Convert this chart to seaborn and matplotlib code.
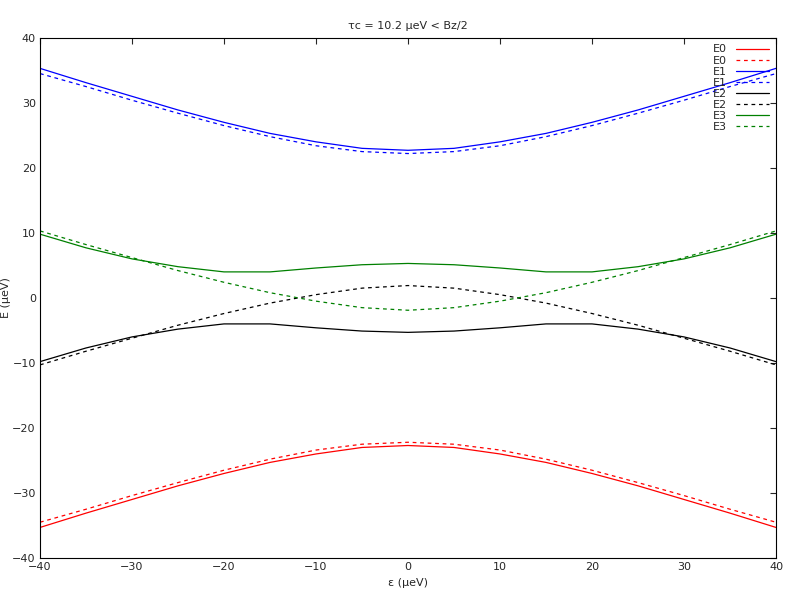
import matplotlib
matplotlib.use("Agg")
import matplotlib.pyplot as plt
import seaborn as sns
import pandas as pd

x = [-40, -35, -30, -25, -20, -15, -10, -5, 0, 5, 10, 15, 20, 25, 30, 35, 40]
e1_solid = [35.3, 33.1, 31.0, 28.9, 27.0, 25.3, 24.0, 23.0, 22.7, 23.0, 24.0, 25.3, 27.0, 28.9, 31.0, 33.1, 35.3]
e1_dash = [34.5, 32.5, 30.4, 28.4, 26.5, 24.8, 23.4, 22.5, 22.2, 22.5, 23.4, 24.8, 26.5, 28.4, 30.4, 32.5, 34.5]
e0_solid = [-v for v in e1_solid]
e0_dash = [-v for v in e1_dash]
e3_solid = [9.8, 7.7, 6.0, 4.8, 4.0, 4.0, 4.6, 5.1, 5.3, 5.1, 4.6, 4.0, 4.0, 4.8, 6.0, 7.7, 9.8]
e2_solid = [-v for v in e3_solid]
e3_dash = [10.3, 8.2, 6.2, 4.2, 2.4, 0.8, -0.5, -1.5, -1.9, -1.5, -0.5, 0.8, 2.4, 4.2, 6.2, 8.2, 10.3]
e2_dash = [-v for v in e3_dash]

series = [("E0", e0_solid, "#ff0000", "-"), ("E0", e0_dash, "#ff0000", "--"),
          ("E1", e1_solid, "#0000ff", "-"), ("E1", e1_dash, "#0000ff", "--"),
          ("E2", e2_solid, "#000000", "-"), ("E2", e2_dash, "#000000", "--"),
          ("E3", e3_solid, "#008000", "-"), ("E3", e3_dash, "#008000", "--")]

sns.set_style("white")
plt.rcParams['font.family'] = ['DejaVu Sans']
fig, ax = plt.subplots(figsize=(8, 6), dpi=100)
fig.subplots_adjust(left=0.05, right=0.97, top=0.937, bottom=0.07)
for lab, ys, c, ls in series:
    df = pd.DataFrame({"x": x, "y": ys})
    sns.lineplot(data=df, x="x", y="y", ax=ax, color=c, lw=0.9,
                 label=lab, estimator=None)
    if ls == "--":
        ax.lines[-1].set_dashes((3, 3))
ax.set_xlim(-40, 40)
ax.set_ylim(-40, 40)
ax.set_xticks(range(-40, 41, 10))
ax.set_yticks(range(-40, 41, 10))
ax.tick_params(direction="in", labelsize=8, top=True, right=True, length=4, pad=3)
for s in ax.spines.values():
    s.set_color("black"); s.set_linewidth(0.8)
ax.set_xlabel("ε (µeV)", fontsize=8)
ax.set_ylabel("E (µeV)", fontsize=8, labelpad=1)
ax.set_title("τc = 10.2 µeV < Bz/2", fontsize=8)
ax.legend(loc="upper right", frameon=False, markerfirst=False, fontsize=8,
          handlelength=3, labelspacing=0.1, borderaxespad=0.2)
fig.savefig("out.png")
